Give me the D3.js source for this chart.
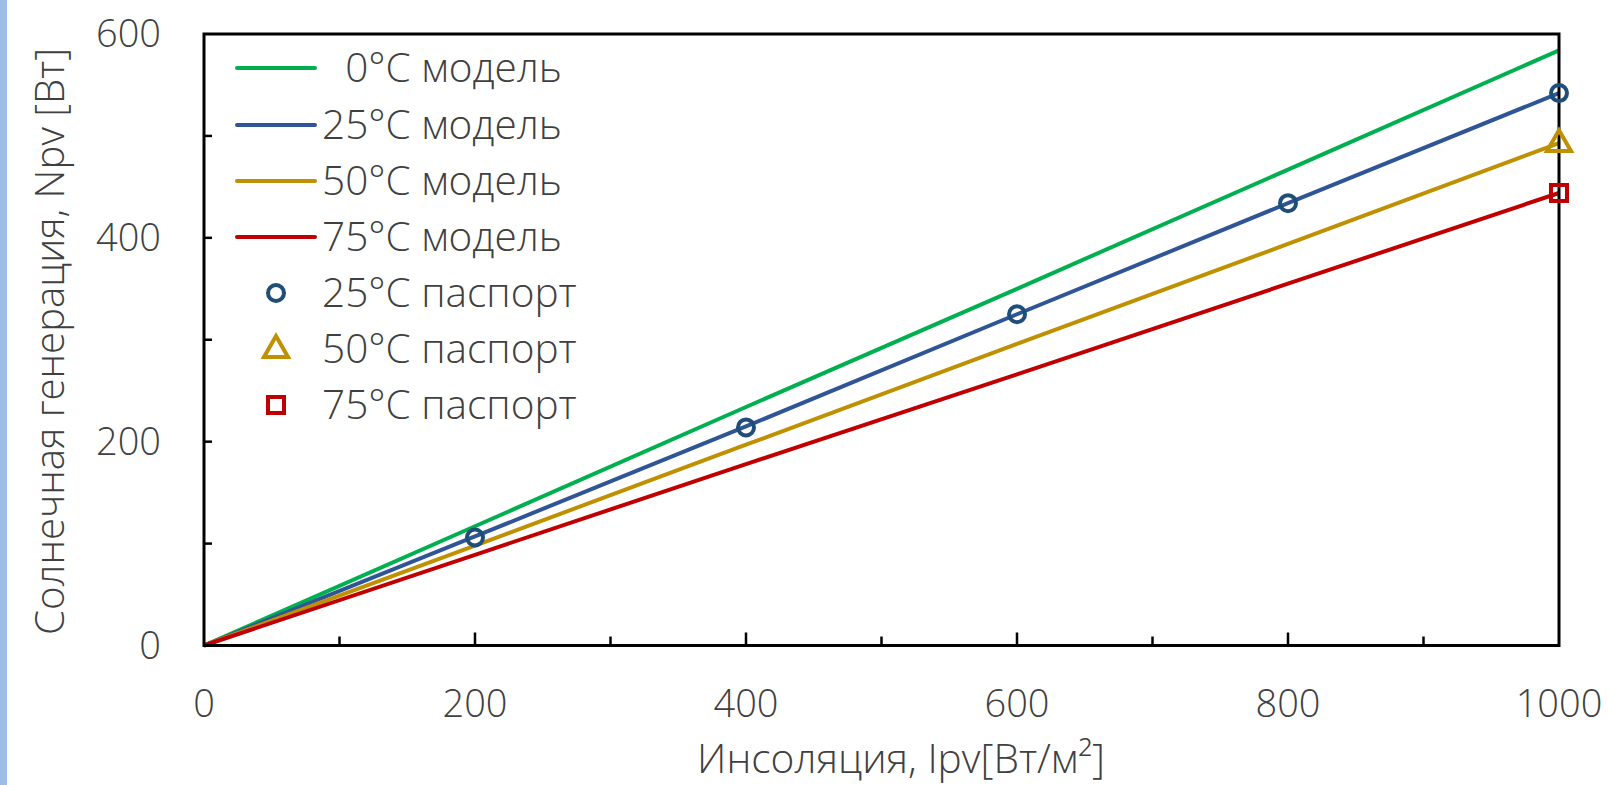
<!DOCTYPE html>
<html><head><meta charset="utf-8">
<script src="https://cdn.jsdelivr.net/npm/d3@7"></script>
<style>
html,body{margin:0;padding:0;background:#fff;}
svg{display:block;font-family:"Open Sans","Noto Sans",sans-serif;}
</style></head>
<body>
<svg id="c" width="1609" height="785"></svg>
<script>
const insolation = [0, 200, 400, 600, 800, 1000];
const model0  = [0, 117, 234, 350, 467, 584];
const model25 = [0, 107, 215, 325, 434, 542];
const model50 = [0, 98, 197, 296, 394, 493];
const model75 = [0, 89, 178, 266, 355, 444];
const passX   = [200, 400, 600, 800, 1000];
const pass25  = [106, 214, 325, 434, 542];
const pass50X = [1000];
const pass50  = [493];
const pass75X = [1000];
const pass75  = [444];
const xTicks = [0, 200, 400, 600, 800, 1000];
const yTicks = [0, 200, 400, 600];
const minorX = [100, 200, 300, 400, 500, 600, 700, 800, 900];
const minorY = [100, 200, 300, 400, 500];
const modelNames = ["0°C модель", "25°C модель", "50°C модель", "75°C модель"];
const passNames = ["25°C паспорт", "50°C паспорт", "75°C паспорт"];
const xTitle = "Инсоляция, Ipv[Вт/м²]";
const yTitle = "Солнечная генерация, Npv [Вт]";

const lineColors = ["#00b050", "#2f5597", "#bf9000", "#c00000"];
const markColors = ["#1f4e79", "#bf9000", "#c00000"];
const textColor = "#404040";

const svg = d3.select("#c");
svg.append("rect").attr("x",0).attr("y",0).attr("width",7).attr("height",785).attr("fill","#9dbde8");

const L = 204, R = 1559, T = 34, B = 645.5;
const x = d3.scaleLinear().domain([0,1000]).range([L,R]);
const y = d3.scaleLinear().domain([0,600]).range([B,T]);

const g = svg.append("g");

function measure(str, fs){
  const t = g.append("text").attr("font-size",fs).attr("font-weight",300).text(str);
  const w = t.node().getComputedTextLength(); t.remove(); return w;
}
function fit(str, target, base){ return base * target / measure(str, base); }

g.selectAll(".mx").data(minorX).join("line")
  .attr("x1", d=>x(d)).attr("x2", d=>x(d))
  .attr("y1", B).attr("y2", d=> B - (d%200===0?13:9))
  .attr("stroke","#000").attr("stroke-width",2.5);
g.selectAll(".my").data(minorY).join("line")
  .attr("y1", d=>y(d)).attr("y2", d=>y(d))
  .attr("x1", L).attr("x2", L+8)
  .attr("stroke","#000").attr("stroke-width",2.5);

const models = [model0, model25, model50, model75];
const lineGen = d3.line().x((d,i)=>x(insolation[i])).y(d=>y(d));
models.forEach((m,k)=>{
  g.append("path").datum(m).attr("d", lineGen)
   .attr("fill","none").attr("stroke", lineColors[k]).attr("stroke-width",4);
});

g.append("rect").attr("x",L).attr("y",T).attr("width",R-L).attr("height",B-T)
  .attr("fill","none").attr("stroke","#000").attr("stroke-width",3);

function drawMarker(sel, type, cx, cy, color){
  if(type===0){
    sel.append("circle").attr("cx",cx).attr("cy",cy).attr("r",8)
      .attr("fill","none").attr("stroke",color).attr("stroke-width",4);
  } else if(type===1){
    const s = 24;
    const h = s*Math.sqrt(3)/2;
    sel.append("path").attr("d", `M${cx},${cy-h*0.62}L${cx+s/2},${cy+h*0.38}L${cx-s/2},${cy+h*0.38}Z`)
      .attr("fill","none").attr("stroke",color).attr("stroke-width",4).attr("stroke-linejoin","miter");
  } else {
    sel.append("rect").attr("x",cx-8).attr("y",cy-8).attr("width",16).attr("height",16)
      .attr("fill","none").attr("stroke",color).attr("stroke-width",4);
  }
}
passX.forEach((d,i)=>drawMarker(g,0,x(d),y(pass25[i]),markColors[0]));
pass50X.forEach((d,i)=>drawMarker(g,1,x(d),y(pass50[i]),markColors[1]));
pass75X.forEach((d,i)=>drawMarker(g,2,x(d),y(pass75[i]),markColors[2]));

const fsTick = Math.min(39, fit("600", 65, 38));
const fsX = fit(xTitle, 408, 40);
const fsY = fit(yTitle, 587, 40);
const fsLeg = fit("25°C модель", 240, 40);

g.selectAll(".xl").data(xTicks).join("text")
  .attr("x", d=>x(d)).attr("y", 717)
  .attr("text-anchor","middle").attr("font-size",fsTick).attr("font-weight",300)
  .attr("fill",textColor).text(d=>d);
g.selectAll(".yl").data(yTicks).join("text")
  .attr("x", 161).attr("y", d=>y(d)+13)
  .attr("text-anchor","end").attr("font-size",fsTick).attr("font-weight",300)
  .attr("fill",textColor).text(d=>d);

g.append("text").attr("x",901).attr("y",773)
  .attr("text-anchor","middle").attr("font-size",fsX).attr("font-weight",300)
  .attr("fill",textColor).text(xTitle);
g.append("text").attr("transform",`translate(50,341.5) rotate(-90)`)
  .attr("dy","0.35em").attr("text-anchor","middle").attr("font-size",fsY).attr("font-weight",300)
  .attr("fill",textColor).text(yTitle);

const legRowsY = [68, 125, 181, 237, 293, 349, 405];
const lx1 = 237, lx2 = 315, tx = 322;
modelNames.forEach((n,k)=>{
  g.append("line").attr("x1",lx1).attr("x2",lx2).attr("y1",legRowsY[k]).attr("y2",legRowsY[k])
    .attr("stroke",lineColors[k]).attr("stroke-width",4).attr("stroke-linecap","round");
  g.append("text").attr("class","leg"+k).attr("x",tx).attr("y",legRowsY[k]).attr("dy","0.35em")
    .attr("font-size",fsLeg).attr("font-weight",300).attr("fill",textColor).text(n);
});
passNames.forEach((n,k)=>{
  const yy = legRowsY[4+k];
  drawMarker(g,k,276,yy,markColors[k]);
  g.append("text").attr("x",tx).attr("y",yy).attr("dy","0.35em")
    .attr("font-size",fsLeg).attr("font-weight",300).attr("fill",textColor).text(n);
});
const dw = measure("2", fsLeg);
g.select(".leg0").attr("x", tx + dw);
</script>
</body></html>
